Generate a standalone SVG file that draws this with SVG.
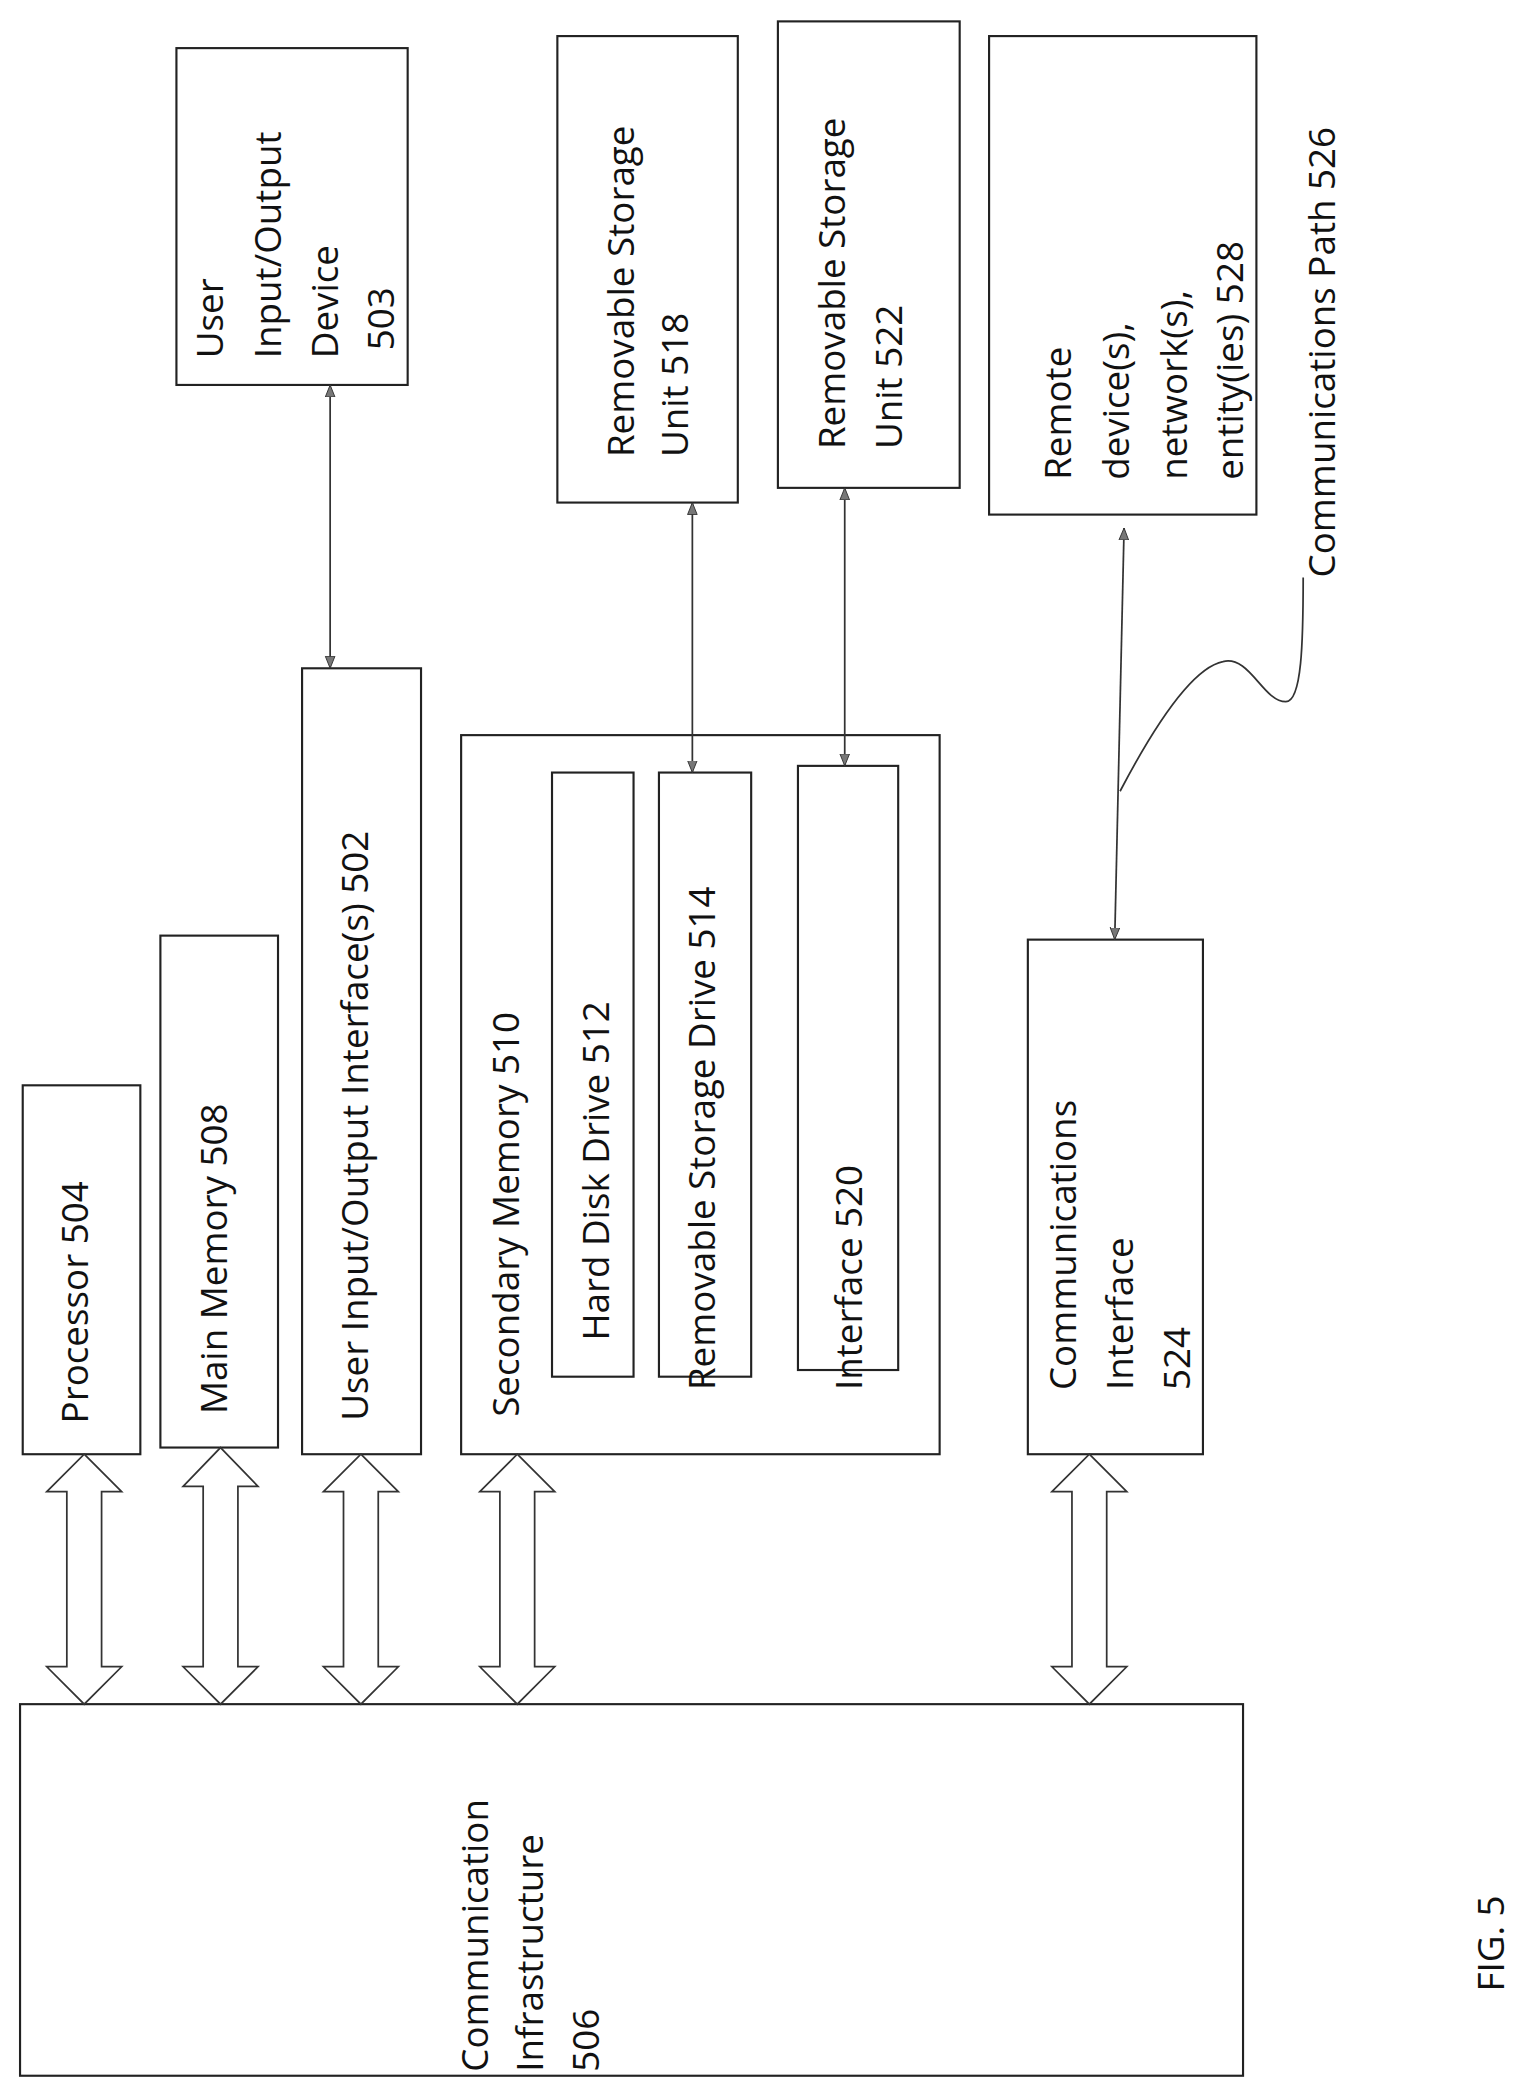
<svg xmlns="http://www.w3.org/2000/svg" width="1517" height="2089" viewBox="0 0 1517 2089">
<style>
.b{fill:none;stroke:#222;stroke-width:1.6}
.t{font-family:"Open Sans","Liberation Sans",sans-serif;font-size:27.5px;fill:#111}
.h{fill:#fff;stroke:#333;stroke-width:1.3}
.c{fill:none;stroke:#333;stroke-width:1.3}
</style>
<defs>
<marker id="a" viewBox="0 0 10 10" refX="10" refY="5" markerWidth="9" markerHeight="9" markerUnits="userSpaceOnUse" orient="auto-start-reverse"><path d="M0,1 L10,5 L0,9 Z" fill="#777" stroke="#333" stroke-width="0.8"/></marker>
</defs>
<rect width="1517" height="2089" fill="#fff"/>
<g transform="scale(1.3366)">
<g id="infra"><rect class="b" x="15" y="1275" width="915" height="278"/>
<text class="t" transform="translate(365,1550) rotate(-90)">Communication</text>
<text class="t" transform="translate(406,1550) rotate(-90)">Infrastructure</text>
<text class="t" transform="translate(448,1550) rotate(-90)">506</text></g>
<g id="proc"><rect class="b" x="17" y="812" width="88" height="276"/><text class="t" transform="translate(66,1065) rotate(-90)">Processor 504</text></g>
<g id="mainmem"><rect class="b" x="120" y="700" width="88" height="383"/><text class="t" transform="translate(170,1058) rotate(-90)">Main Memory 508</text></g>
<g id="uioi"><rect class="b" x="226" y="500" width="89" height="588"/><text class="t" transform="translate(275,1063) rotate(-90)">User Input/Output Interface(s) 502</text></g>
<g id="secmem"><rect class="b" x="345" y="550" width="358" height="538"/><text class="t" transform="translate(388,1060) rotate(-90)">Secondary Memory 510</text></g>
<g id="hdd"><rect class="b" x="413" y="578" width="61" height="452"/><text class="t" transform="translate(456,1003) rotate(-90)">Hard Disk Drive 512</text></g>
<g id="rsd"><rect class="b" x="493" y="578" width="69" height="452"/><text class="t" transform="translate(535,1040) rotate(-90)">Removable Storage Drive 514</text></g>
<g id="if520"><rect class="b" x="597" y="573" width="75" height="452"/><text class="t" transform="translate(645,1040) rotate(-90)">Interface 520</text></g>
<g id="commif"><rect class="b" x="769" y="703" width="131" height="385"/>
<text class="t" transform="translate(805,1040) rotate(-90)">Communications</text>
<text class="t" transform="translate(848,1040) rotate(-90)">Interface</text>
<text class="t" transform="translate(890,1040) rotate(-90)">524</text></g>
<g id="uiod"><rect class="b" x="132" y="36" width="173" height="252"/>
<text class="t" transform="translate(167,268) rotate(-90)">User</text>
<text class="t" transform="translate(210,268) rotate(-90)">Input/Output</text>
<text class="t" transform="translate(253,268) rotate(-90)">Device</text>
<text class="t" transform="translate(295,262) rotate(-90)">503</text></g>
<g id="rsu518"><rect class="b" x="417" y="27" width="135" height="349"/>
<text class="t" transform="translate(474,342) rotate(-90)">Removable Storage</text>
<text class="t" transform="translate(515,342) rotate(-90)">Unit  518</text></g>
<g id="rsu522"><rect class="b" x="582" y="16" width="136" height="349"/>
<text class="t" transform="translate(632,336) rotate(-90)">Removable Storage</text>
<text class="t" transform="translate(675,336) rotate(-90)">Unit  522</text></g>
<g id="remote"><rect class="b" x="740" y="27" width="200" height="358"/>
<text class="t" transform="translate(801,359) rotate(-90)">Remote</text>
<text class="t" transform="translate(845,359) rotate(-90)">device(s),</text>
<text class="t" transform="translate(888,359) rotate(-90)">network(s),</text>
<text class="t" transform="translate(930,359) rotate(-90)">entity(ies) 528</text></g>
<g id="path526"><text class="t" transform="translate(999,432) rotate(-90)">Communications Path 526</text></g>
<g id="fig"><text class="t" transform="translate(1125,1490) rotate(-90)">FIG. 5</text></g>
<g id="connectors">
<path class="h" d="M63,1088 L91,1116 L76,1116 L76,1247 L91,1247 L63,1275 L35,1247 L50,1247 L50,1116 L35,1116 Z"/>
<path class="h" d="M165,1083 L193,1112 L178,1112 L178,1247 L193,1247 L165,1275 L137,1247 L152,1247 L152,1112 L137,1112 Z"/>
<path class="h" d="M270,1088 L298,1116 L283,1116 L283,1247 L298,1247 L270,1275 L242,1247 L257,1247 L257,1116 L242,1116 Z"/>
<path class="h" d="M387,1088 L415,1116 L400,1116 L400,1247 L415,1247 L387,1275 L359,1247 L374,1247 L374,1116 L359,1116 Z"/>
<path class="h" d="M815,1088 L843,1116 L828,1116 L828,1247 L843,1247 L815,1275 L787,1247 L802,1247 L802,1116 L787,1116 Z"/>
<line class="c" x1="247" y1="288" x2="247" y2="500" marker-start="url(#a)" marker-end="url(#a)"/>
<line class="c" x1="518" y1="376" x2="518" y2="578" marker-start="url(#a)" marker-end="url(#a)"/>
<line class="c" x1="632" y1="365" x2="632" y2="573" marker-start="url(#a)" marker-end="url(#a)"/>
<line class="c" x1="841" y1="395" x2="834" y2="703" marker-start="url(#a)" marker-end="url(#a)"/>
<path class="c" d="M975,432 C975,480 974,525 962,525 C945,525 935,490 915,495 C890,500 860,550 838,592"/>
</g>
</g>
</svg>
